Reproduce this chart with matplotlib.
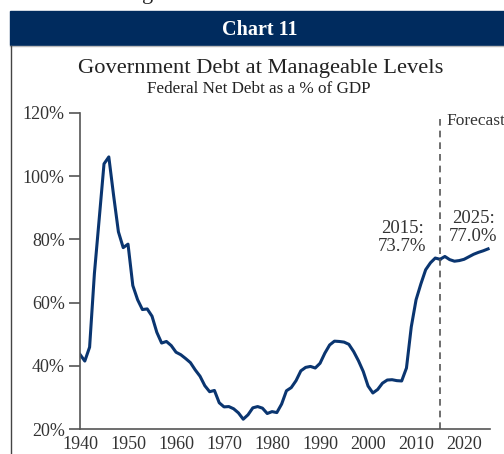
import matplotlib.pyplot as plt
from matplotlib.patches import Rectangle
from matplotlib.lines import Line2D

# Federal net debt, % of GDP (actual)
years_actual = list(range(1940, 2016))
debt_actual = [43.6, 41.5, 45.9, 69.2, 86.5, 103.9, 106.1, 93.9, 82.4, 77.4,
               78.5, 65.4, 60.9, 57.8, 58.0, 55.7, 50.6, 47.2, 47.7, 46.4,
               44.3, 43.5, 42.3, 41.0, 38.7, 36.7, 33.7, 31.8, 32.2, 28.3,
               27.0, 27.1, 26.4, 25.1, 23.1, 24.5, 26.7, 27.1, 26.6, 24.9,
               25.5, 25.2, 27.9, 32.1, 33.1, 35.3, 38.4, 39.5, 39.8, 39.3,
               40.8, 44.0, 46.6, 47.8, 47.7, 47.5, 46.8, 44.5, 41.6, 38.2,
               33.6, 31.4, 32.5, 34.5, 35.5, 35.6, 35.3, 35.2, 39.3, 52.3,
               60.9, 65.9, 70.4, 72.6, 74.1, 73.7]
# forecast
years_fc = list(range(2015, 2026))
debt_fc = [73.7, 74.6, 73.6, 73.1, 73.3, 73.7, 74.5, 75.3, 75.9, 76.4, 77.0]

yticks = [20, 40, 60, 80, 100, 120]
xticks = [1940, 1950, 1960, 1970, 1980, 1990, 2000, 2010, 2020]

navy = '#002b5e'
line_col = '#0a3570'
grey = '#555555'
txt = '#333333'

plt.rcParams['font.family'] = ['Liberation Serif', 'DejaVu Serif']

fig = plt.figure(figsize=(5.04, 4.54), dpi=100)
W, H = 504, 454

def fx(px):
    return px / W

def fy(py):
    return 1 - py / H

# header bar and frame lines
fig.patches.append(Rectangle((fx(10), fy(45)), 1 - fx(10), (45 - 11) / H,
                             transform=fig.transFigure, color=navy, zorder=0))
fig.lines.append(Line2D([fx(10), 1], [fy(46), fy(46)], transform=fig.transFigure,
                        color='#bbbbbb', lw=1))
fig.lines.append(Line2D([fx(11), fx(11)], [fy(46), 0], transform=fig.transFigure,
                        color='#444444', lw=1))
# descender of the page heading above, cut by the crop
fig.text(fx(148), fy(-1), 'g', ha='center', va='baseline', fontsize=16, color='#222222')
fig.text(fx(260), fy(30), 'Chart 11', ha='center', va='center', fontsize=14.5,
         fontweight='bold', color='white')
fig.text(fx(261), fy(68), 'Government Debt at Manageable Levels', ha='center',
         va='center', fontsize=16.2, color='#222222')
fig.text(fx(259), fy(89), 'Federal Net Debt as a % of GDP', ha='center',
         va='center', fontsize=12.3, color='#222222')

ax = fig.add_axes([fx(80), fy(429), (490 - 80) / W, (429 - 113) / H])
ax.plot(years_actual, debt_actual, color=line_col, lw=2.2, solid_joinstyle='round')
ax.plot(years_fc, debt_fc, color=line_col, lw=2.2, solid_joinstyle='round')
ax.axvline(2015, ymin=0, ymax=0.99, color=grey, lw=1.2, ls=(0, (4, 3)))

ax.set_xlim(1940, 2025.4)
ax.set_ylim(20, 120)
ax.set_yticks(yticks)
ax.set_yticklabels([f'{v}%' for v in yticks])
ax.set_xticks(xticks)
ax.set_xticklabels([str(v) for v in xticks])
for s in ['top', 'right']:
    ax.spines[s].set_visible(False)
for s in ['left', 'bottom']:
    ax.spines[s].set_color(grey)
    ax.spines[s].set_linewidth(1.2)
ax.tick_params(axis='y', length=8, width=1.2, color=grey, labelsize=13,
               labelcolor=txt, pad=3)
ax.tick_params(axis='x', length=0, labelsize=13, labelcolor=txt, pad=5)

ax.text(2007.1, 80.5, '2015:\n73.7%', ha='center', va='center', fontsize=13.5,
        color=txt, linespacing=1.1)
ax.text(2021.9, 83.8, '2025:\n77.0%', ha='center', va='center', fontsize=13.5,
        color=txt, linespacing=1.1)
ax.text(2016.3, 117.5, 'Forecast', ha='left', va='center', fontsize=12.5,
        color=txt, clip_on=False)

fig.savefig('out.png', dpi=100)
